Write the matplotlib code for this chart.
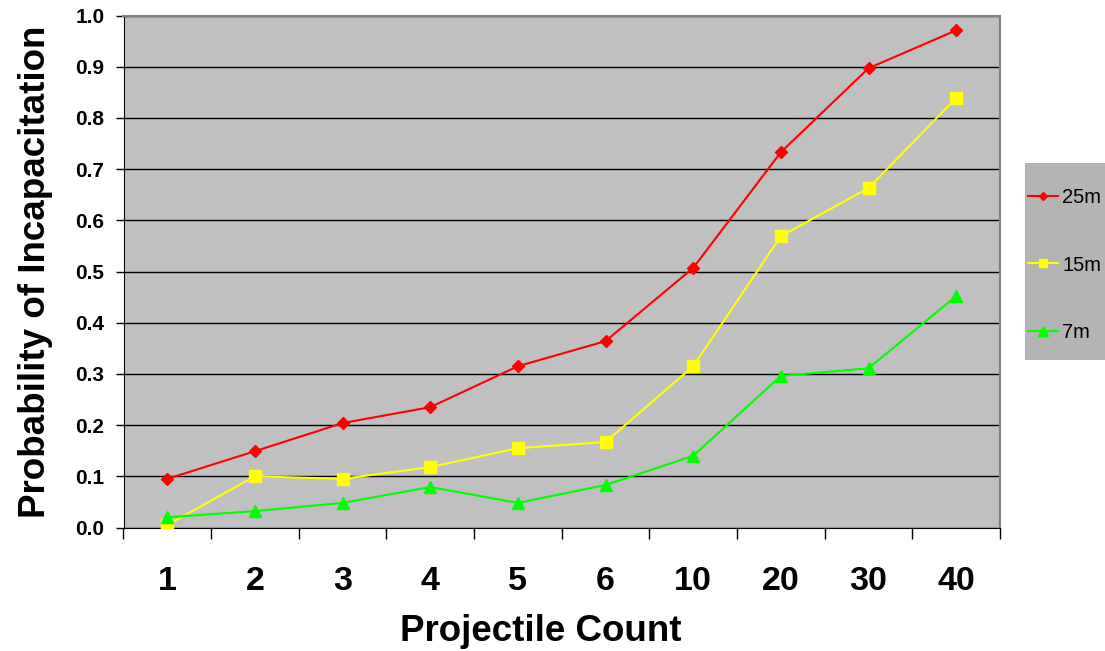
import numpy as np
import matplotlib.pyplot as plt
from matplotlib.patches import Rectangle
from matplotlib.ticker import FixedLocator, NullFormatter

plt.rcParams['font.family'] = ['Liberation Sans', 'DejaVu Sans']

# projectile counts and incapacitation probability per range
counts = ['1', '2', '3', '4', '5', '6', '10', '20', '30', '40']
p_25m = [0.095, 0.149, 0.204, 0.235, 0.315, 0.364, 0.507, 0.733, 0.897, 0.971]
p_15m = [0.005, 0.100, 0.095, 0.118, 0.155, 0.167, 0.315, 0.569, 0.663, 0.839]
p_7m = [0.020, 0.032, 0.048, 0.079, 0.048, 0.083, 0.140, 0.296, 0.311, 0.452]
y_ticks = np.round(np.arange(0, 1.01, 0.1), 1)

W, H = 1105, 651
fig = plt.figure(figsize=(W / 100, H / 100), dpi=100)
ax = fig.add_axes([123.5 / W, (H - 527.5) / H, 876.5 / W, 512 / H])
ax.set_facecolor('#c0c0c0')

x = np.arange(len(counts))
ax.plot(x, p_25m, color='#ff0000', lw=1.5, marker='D', ms=6, label='25m', zorder=3)
ax.plot(x, p_15m, color='#ffff00', lw=1.5, marker='s', ms=8, label='15m', zorder=3)
ax.plot(x, p_7m, color='#00ff00', lw=1.5, marker='^', ms=9, label='7m', zorder=3)

ax.set_xlim(-0.5, len(counts) - 0.5)
ax.set_ylim(0, 1.0)
ax.set_yticks(y_ticks)
ax.set_yticklabels([f'{v:.1f}' for v in y_ticks], fontsize=15, fontweight='bold')
ax.yaxis.grid(True, color='black', lw=1)
ax.set_axisbelow(True)

# tick marks on category boundaries, labels on category centres
ax.xaxis.set_major_locator(FixedLocator(np.arange(-0.5, len(counts), 1.0)))
ax.xaxis.set_major_formatter(NullFormatter())
ax.xaxis.set_minor_locator(FixedLocator(x))
ax.set_xticklabels(counts, minor=True, fontsize=24.5, fontweight='bold')
ax.tick_params(axis='x', which='major', length=8, width=1, color='black')
ax.tick_params(axis='x', which='minor', length=0, pad=28)
ax.tick_params(axis='y', length=5.8, width=1, pad=8)

for side in ['top', 'right']:
    ax.spines[side].set_color('#808080')
    ax.spines[side].set_linewidth(1.5)
ax.spines['left'].set_color('black')
ax.spines['bottom'].set_color('black')

ax.set_xlabel('Projectile Count', fontsize=26.5, fontweight='bold', labelpad=12)
ax.xaxis.label.set_x(0.476)
ax.set_ylabel('Probability of Incapacitation', fontsize=26.5, fontweight='bold', labelpad=16)

# legend panel on the right
fig.patches.append(Rectangle((1025 / W, (H - 360) / H), 80 / W, 197 / H,
                             transform=fig.transFigure, facecolor='#b4b4b4',
                             edgecolor='none', zorder=-1))
ax.legend(loc='center left', bbox_to_anchor=(1025 / W, (H - 265) / H),
          bbox_transform=fig.transFigure, fontsize=14.5, frameon=False,
          labelspacing=2.4, handlelength=1.5, handletextpad=0.2,
          borderpad=0.15, borderaxespad=0, markerscale=0.75)

fig.savefig('out.png', dpi=100)
